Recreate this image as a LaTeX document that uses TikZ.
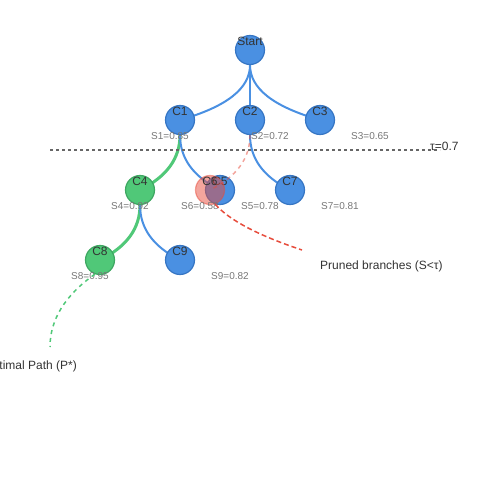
\documentclass[tikz,border=0pt]{standalone}
\usepackage{fontspec}
\setmainfont{Liberation Sans}
\usetikzlibrary{calc}
\pgfdeclarelayer{background}
\pgfsetlayers{background,main}
\definecolor{candfill}{HTML}{4A90E2}
\definecolor{candedge}{HTML}{3676C4}
\definecolor{bestfill}{HTML}{50C878}
\definecolor{bestedge}{HTML}{3EA862}
\definecolor{cutred}{HTML}{E74C3C}
\definecolor{ink}{HTML}{333333}
\definecolor{scoregray}{HTML}{777777}
\definecolor{linegray}{HTML}{666666}
\newcommand{\branch}[3]{\path ($(#2.south)+(0,35)$) coordinate (bend);
	\draw[#1] (#2.south) .. controls ($(#2.south)!.667!(bend)$) and ($(#3.center)!.667!(bend)$) .. (#3.center);}

\begin{document}
\begin{tikzpicture}[x=1pt,y=-1pt,
	cand/.style={circle,draw=candedge,fill=candfill,line width=1.2pt,minimum size=29pt,inner sep=0pt},
	best/.style={cand,draw=bestedge,fill=bestfill},
	cut/.style={cand,draw=cutred,fill=cutred,fill opacity=.5,draw opacity=.5},
	tag/.style={label={[anchor=center,yshift=-6pt,text=ink,opacity=1,text opacity=1,font=\fontsize{12}{14}\selectfont]90:#1}},
	score/.style={text=scoregray,inner sep=0pt,font=\fontsize{10}{12}\selectfont},
	note/.style={text=ink,inner sep=0pt,font=\fontsize{12}{14}\selectfont},
	link/.style={line width=2pt,draw=candfill},
	bestlink/.style={line width=3pt,draw=bestfill},
	cutlink/.style={line width=1.5pt,draw=cutred,draw opacity=.5,dash pattern=on 4pt off 4pt}]
		\useasboundingbox (0,0) rectangle (500,500);
		\node[cand,tag=Start](start) at (250,50) {};
		\node[cand,tag=C1](c1) at (180,120) {};
		\node[cand,tag=C2](c2) at (250,120) {};
		\node[cand,tag=C3](c3) at (320,120) {};
		\node[best,tag=C4](c4) at (140,190) {};
		\node[cand,tag=C5](c5) at (220,190) {};
		\node[cand,tag=C7](c7) at (290,190) {};
		\node[best,tag=C8](c8) at (100,260) {};
		\node[cand,tag=C9](c9) at (180,260) {};
		\node[cut,tag=C6](c6) at (210,190) {};
		
		\begin{pgfonlayer}{background}
		\branch{link}{start}{c1}
		\branch{link}{start}{c2}
		\branch{link}{start}{c3}
		\branch{bestlink}{c1}{c4}
		\branch{link}{c1}{c5}
		\branch{link}{c2}{c7}
		\branch{bestlink}{c4}{c8}
		\branch{link}{c4}{c9}
		\end{pgfonlayer}
		\branch{cutlink}{c2}{c6}
		
		% threshold
		\draw[line width=1.2pt,linegray,dash pattern=on 3pt off 3pt] (50,150) -- (440,150);
		\node[note,anchor=west](tau) at (430,146) {τ=0.7};
		
		\node[score](s1) at (170,136) {S1=0.85};
		\node[score](s2) at (270,136) {S2=0.72};
		\node[score](s3) at (370,136) {S3=0.65};
		\node[score](s4) at (130,206) {S4=0.92};
		\node[score](s6) at (200,206) {S6=0.58};
		\node[score](s5) at (260,206) {S5=0.78};
		\node[score](s7) at (340,206) {S7=0.81};
		\node[score](s8) at (90,276) {S8=0.95};
		\node[score](s9) at (230,276) {S9=0.82};
		
		% callouts
		\coordinate (cuttip) at (302,250);
		\coordinate (cutbend) at (236,228);
		\coordinate (besttip) at (50,347);
		\coordinate (bestbend) at (50,306);
		\draw[line width=1.5pt,cutred,dash pattern=on 5pt off 3pt] (c6.-70) .. controls ($(c6.-70)!.667!(cutbend)$) and ($(cuttip)!.667!(cutbend)$) .. (cuttip);
		\draw[line width=1.5pt,bestfill,dash pattern=on 4pt off 4pt] (c8.-110) .. controls ($(c8.-110)!.667!(bestbend)$) and ($(besttip)!.667!(bestbend)$) .. (besttip);
		\node[note,anchor=west](cutnote) at (320,266) {Pruned branches (S<τ)};
		\node[note,anchor=east](bestnote) at (77,366) {Optimal Path (P*)};
	\end{tikzpicture}
\end{document}
